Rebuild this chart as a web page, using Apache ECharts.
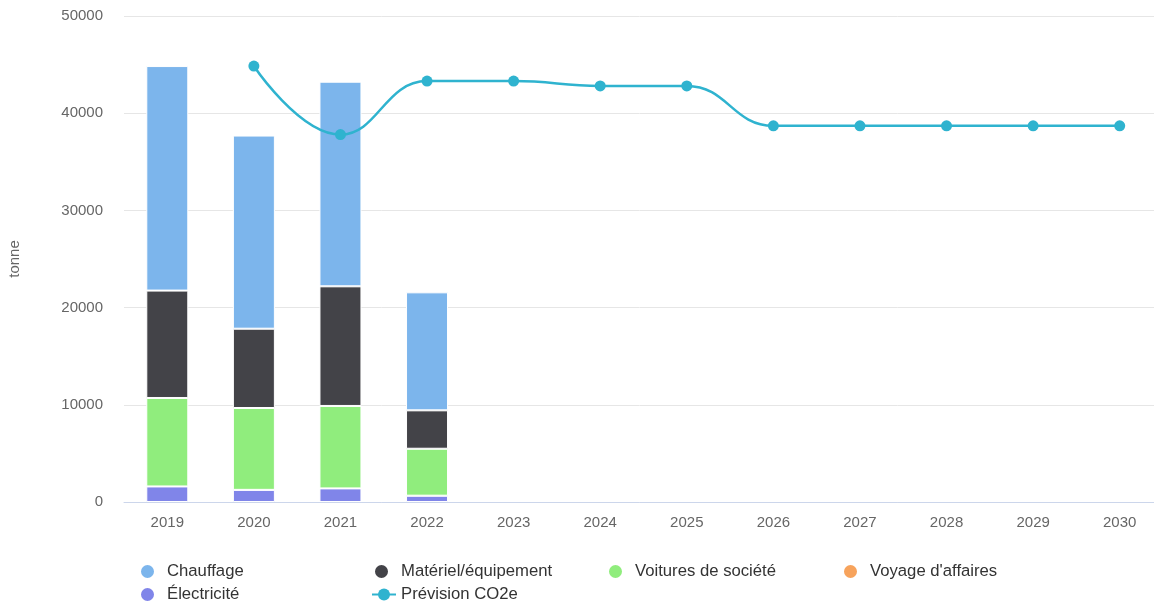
<!DOCTYPE html>
<html>
<head>
<meta charset="utf-8">
<script src="https://cdn.jsdelivr.net/npm/echarts@6/dist/echarts.min.js"></script>
<style>
  html, body { margin: 0; padding: 0; background: #fff; }
  #main { width: 1154px; height: 607px; }
</style>
</head>
<body>
<div id="main"></div>
<script>
const years = ['2019', '2020', '2021', '2022', '2023', '2024', '2025', '2026', '2027', '2028', '2029', '2030'];
const chauffage = [23100, 19870, 21050, 12140];
const materiel = [11050, 8160, 12310, 3950];
const voitures = [9100, 8420, 8480, 4830];
const voyage = [0, 0, 0, 0];
const electricite = [1600, 1250, 1400, 650];
const prevision = [null, 44850, 37800, 43300, 43300, 42800, 42800, 38700, 38700, 38700, 38700, 38700];

const font = 'Liberation Sans, Arial, sans-serif';
const myChart = echarts.init(document.getElementById('main'));

function barSeries(name, data, color) {
  return {
    name: name,
    type: 'bar',
    stack: 'total',
    barWidth: 42,
    data: data,
    itemStyle: {color: color, borderColor: '#fff', borderWidth: 1},
    emphasis: {disabled: true}
  };
}

// one legend per item so they sit in a fixed grid like the original
function legendItem(name, left, top, isLine) {
  return {
    left: left,
    top: top,
    padding: 0,
    itemWidth: isLine ? 24 : 15,
    itemHeight: 15,
    selectedMode: false,
    textStyle: {fontSize: 16.7, color: '#333', fontFamily: font, padding: [0, 0, 0, isLine ? 0 : 7]},
    data: isLine ? [{name: name}] : [{name: name, icon: 'circle'}]
  };
}

myChart.setOption({
  animation: false,
  textStyle: {fontFamily: font},
  grid: {left: 124, width: 1039, top: 16, bottom: 105, outerBoundsMode: 'none', containLabel: false},
  legend: [
    legendItem('Chauffage', 139, 563),
    legendItem('Matériel/équipement', 373, 563),
    legendItem('Voitures de société', 607, 563),
    legendItem("Voyage d'affaires", 842, 563),
    legendItem('Électricité', 139, 586),
    legendItem('Prévision CO2e', 371, 586, true)
  ],
  xAxis: {
    type: 'category',
    data: years,
    boundaryGap: true,
    axisLine: {lineStyle: {color: '#ccd6eb'}},
    axisTick: {show: false},
    axisLabel: {color: '#666', fontSize: 15, margin: 13}
  },
  yAxis: {
    type: 'value',
    min: 0,
    max: 50000,
    interval: 10000,
    name: 'tonne',
    nameLocation: 'middle',
    nameGap: 102,
    nameTextStyle: {color: '#666', fontSize: 15},
    axisLabel: {color: '#666', fontSize: 15, margin: 21, formatter: v => String(v)},
    splitLine: {lineStyle: {color: '#e6e6e6'}}
  },
  series: [
    barSeries('Électricité', electricite, '#8085e9'),
    barSeries("Voyage d'affaires", voyage, '#f7a35c'),
    barSeries('Voitures de société', voitures, '#90ed7d'),
    barSeries('Matériel/équipement', materiel, '#434348'),
    barSeries('Chauffage', chauffage, '#7cb5ec'),
    {
      name: 'Prévision CO2e',
      type: 'line',
      data: prevision,
      smooth: 0.45,
      symbol: 'circle',
      symbolSize: 11,
      lineStyle: {width: 2.5, color: '#2fb3cf'},
      itemStyle: {color: '#2fb3cf'},
      z: 5
    }
  ]
});
</script>
</body>
</html>
